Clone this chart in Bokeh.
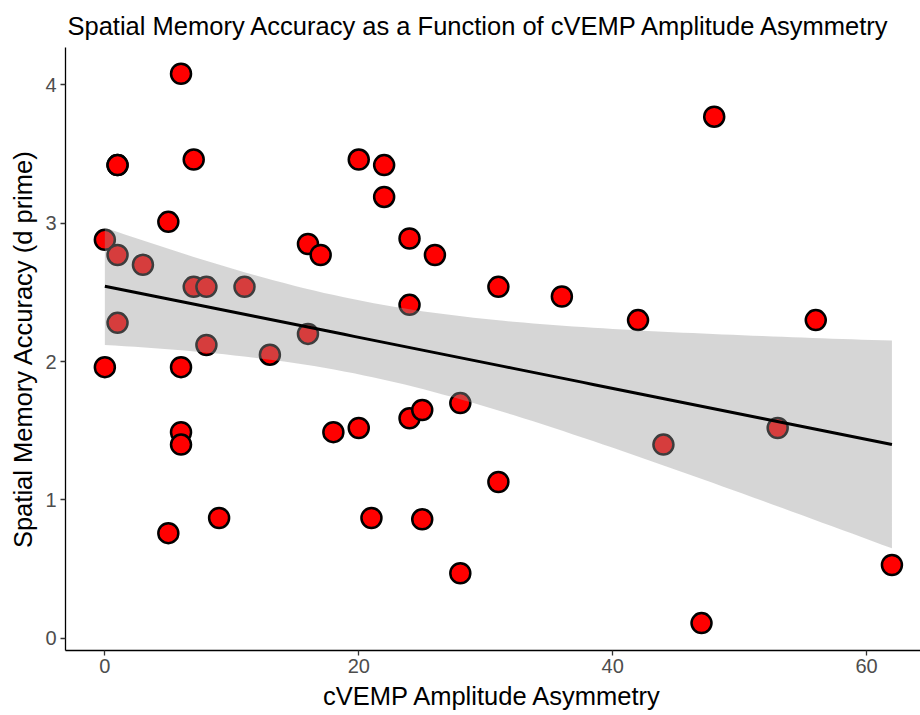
import numpy as np
from bokeh.plotting import figure
from bokeh.models import ColumnDataSource, FixedTicker, Range1d
from bokeh.embed import file_html
from bokeh.resources import INLINE

# cVEMP amplitude asymmetry (x) and spatial memory accuracy d' (y)
asymmetry = [0, 0, 1, 1, 1, 1, 3, 5, 5, 6, 6, 6, 6, 7, 7, 8, 8, 9, 11, 13,
             16, 16, 17, 18, 20, 20, 21, 22, 22, 24, 24, 24, 25, 25, 26, 28,
             28, 31, 31, 36, 42, 44, 47, 48, 53, 56, 62]
accuracy = [2.88, 1.96, 3.42, 3.42, 2.77, 2.28, 2.70, 3.01, 0.76, 4.08, 1.96,
            1.49, 1.40, 3.46, 2.54, 2.54, 2.12, 0.87, 2.54, 2.05, 2.85, 2.20,
            2.77, 1.49, 3.46, 1.52, 0.87, 3.42, 3.19, 2.89, 2.41, 1.59, 1.65,
            0.86, 2.77, 1.70, 0.47, 2.54, 1.13, 2.47, 2.30, 1.40, 0.11, 3.77,
            1.52, 2.30, 0.53]
x_ticks = [0, 20, 40, 60]
y_ticks = [0, 1, 2, 3, 4]

x = np.array(asymmetry, dtype=float)
y = np.array(accuracy, dtype=float)
n = len(x)

# linear model fit with 95% confidence band (like geom_smooth(method="lm"))
b1, b0 = np.polyfit(x, y, 1)
resid = y - (b0 + b1 * x)
df = n - 2
s = np.sqrt(np.sum(resid ** 2) / df)
z = 1.959964
tq = z + (z ** 3 + z) / (4 * df) + (5 * z ** 5 + 16 * z ** 3 + 3 * z) / (96 * df ** 2)
xs = np.linspace(x.min(), x.max(), 80)
ys = b0 + b1 * xs
se = s * np.sqrt(1.0 / n + (xs - x.mean()) ** 2 / np.sum((x - x.mean()) ** 2))
lower = ys - tq * se
upper = ys + tq * se

FONT = "Liberation Sans"

p = figure(width=920, height=715, output_backend="svg", toolbar_location=None,
           x_range=Range1d(-3.1, 64.25), y_range=Range1d(-0.088, 4.27),
           min_border_left=65, min_border_right=0, min_border_top=47,
           min_border_bottom=65)
p.background_fill_color = "white"
p.border_fill_color = "white"
p.outline_line_color = None
p.grid.grid_line_color = None

pts = ColumnDataSource(dict(x=x, y=y))
p.scatter("x", "y", source=pts, size=20, fill_color="#FF0000",
          line_color="black", line_width=2.5)

band = ColumnDataSource(dict(x=xs, lower=lower, upper=upper))
p.varea(x="x", y1="lower", y2="upper", source=band,
        fill_color="#999999", fill_alpha=0.4)
p.line(xs, ys, line_color="black", line_width=3)

p.title.text = "Spatial Memory Accuracy as a Function of cVEMP Amplitude Asymmetry"
p.title.align = "left"
p.title.offset = 2
p.title.text_font = FONT
p.title.text_font_size = "25.5px"
p.title.text_font_style = "normal"
p.title.text_color = "black"
p.title.standoff = 16

for ax in (p.xaxis[0], p.yaxis[0]):
    ax.axis_line_color = "black"
    ax.axis_line_width = 1.3
    ax.major_tick_line_color = "#333333"
    ax.major_tick_line_width = 1.3
    ax.major_tick_out = 5
    ax.major_tick_in = 0
    ax.minor_tick_line_color = None
    ax.major_label_text_font = FONT
    ax.major_label_text_font_size = "20px"
    ax.major_label_text_color = "#4D4D4D"
    ax.axis_label_text_font = FONT
    ax.axis_label_text_font_size = "25.5px"
    ax.axis_label_text_font_style = "normal"
    ax.axis_label_text_color = "black"

p.xaxis.ticker = FixedTicker(ticks=x_ticks)
p.yaxis.ticker = FixedTicker(ticks=y_ticks)
p.xaxis.axis_label = "cVEMP Amplitude Asymmetry"
p.yaxis.axis_label = "Spatial Memory Accuracy (d prime)"
p.xaxis.major_label_standoff = 3
p.yaxis.major_label_standoff = 4
p.xaxis.axis_label_standoff = 6
p.yaxis.axis_label_standoff = 5

open("out.html", "w").write(file_html(p, INLINE))
